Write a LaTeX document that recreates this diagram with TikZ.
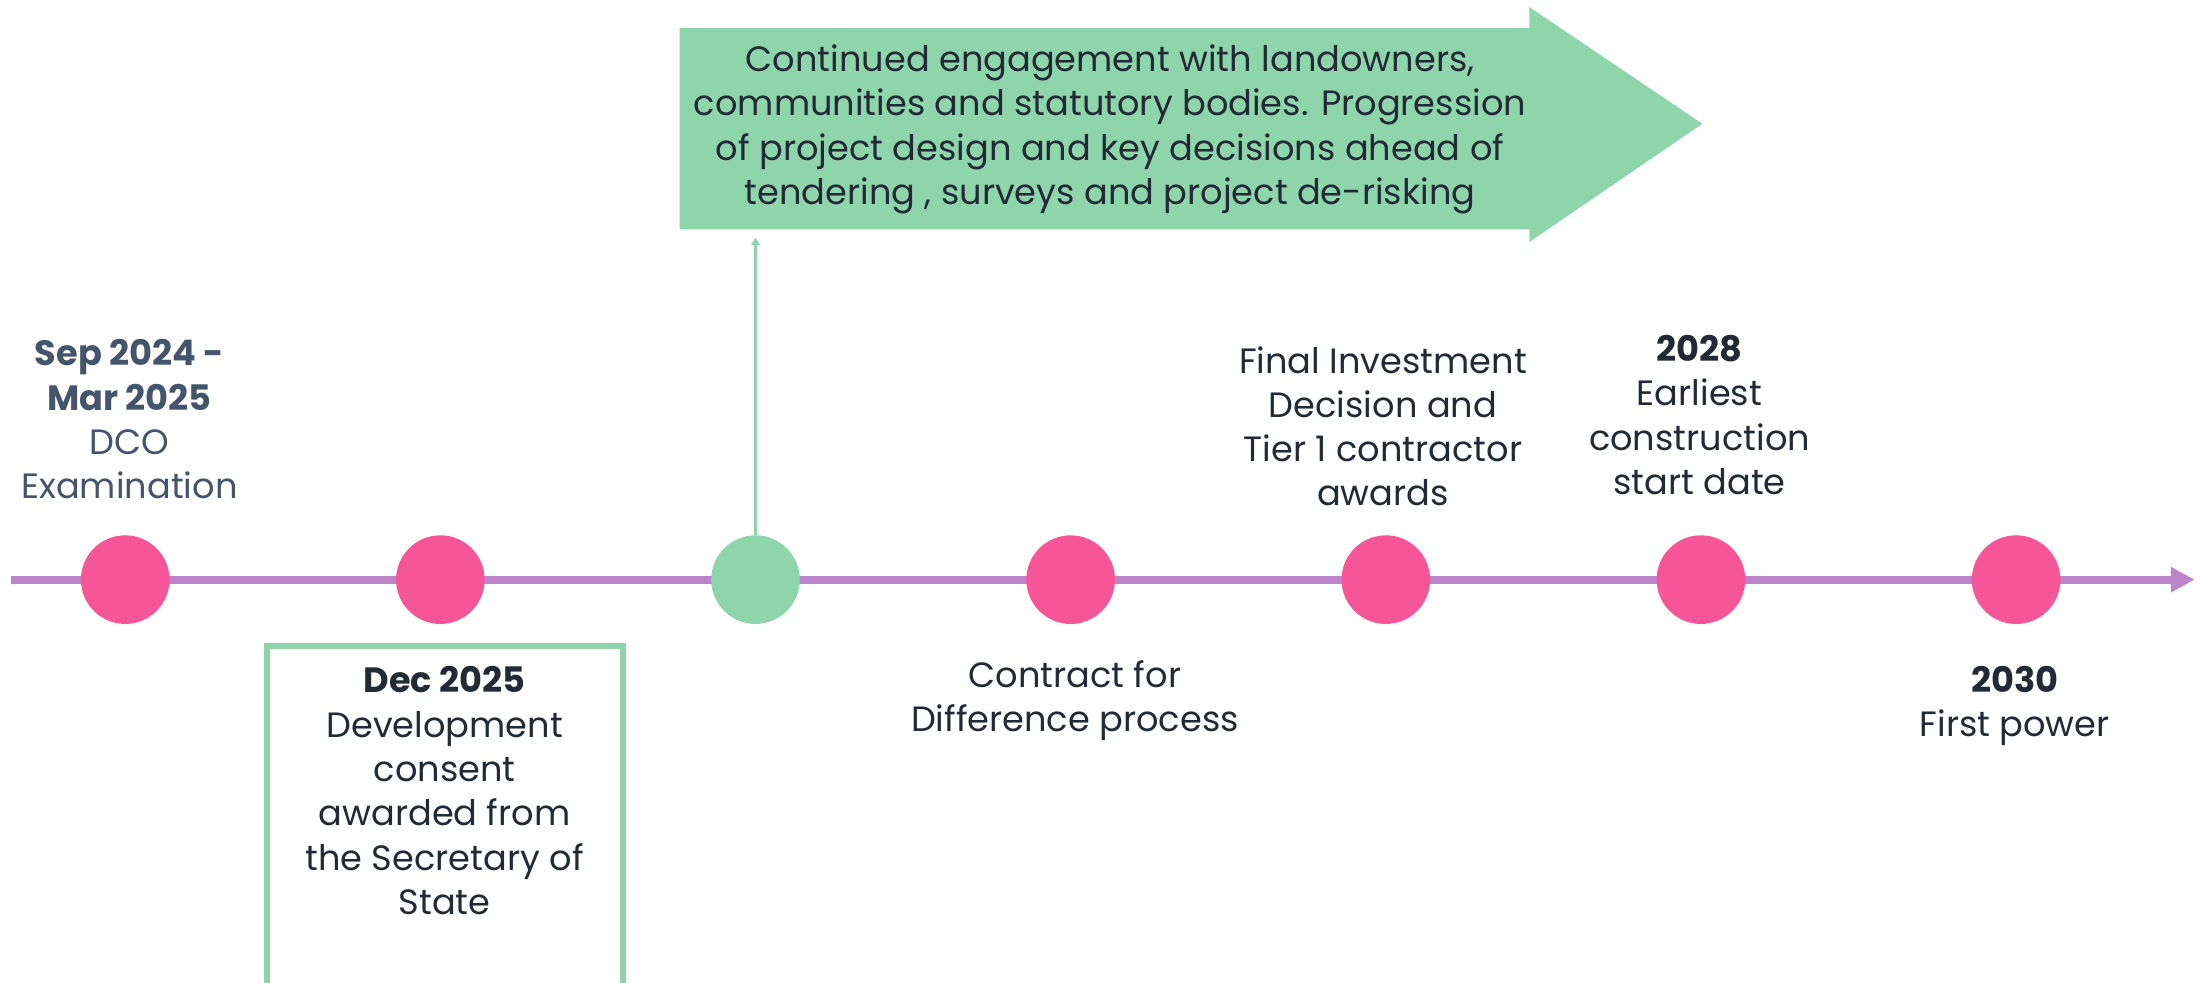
\documentclass[tikz,border=0pt]{standalone}
\usepackage{fontspec}
\setmainfont{Poppins}
\usetikzlibrary{arrows.meta}
\definecolor{pinkc}{HTML}{F65597}
\definecolor{purplec}{HTML}{BC85C9}
\definecolor{greenc}{HTML}{8FD5AB}
\definecolor{darkc}{HTML}{222A35}
\definecolor{slatec}{HTML}{44546A}
\tikzset{
  dot/.style={circle, fill=#1, minimum size=63pt, inner sep=0pt},
  lbl/.style={align=center, inner sep=0pt, text=darkc, font=\fontsize{25}{31.5}\selectfont},
}
\begin{document}
\begin{tikzpicture}[x=1pt,y=-1pt]
\useasboundingbox (0,0) rectangle (1568,698);
\clip (0,0) rectangle (1568,698);
% big arrow
\fill[greenc] (483,20) -- (1087,20) -- (1087,5) -- (1210,88) -- (1087,172) -- (1087,163) -- (483,163) -- cycle;
\node[lbl] (big) at (789,92) {Continued engagement with landowners,\\communities and statutory bodies. Progression\\of project design and key decisions ahead of\\tendering , surveys and project de-risking};
% timeline
\coordinate (tl0) at (8,412);
\coordinate (tl1) at (1560,412);
\draw[purplec, line width=5.8pt, -{Triangle[length=17pt,width=17pt]}] (tl0) -- (tl1);
\node[dot=pinkc] (d1) at (89,412) {};
\node[dot=pinkc] (d2) at (313,412) {};
\node[dot=greenc] (d3) at (537,412) {};
\node[dot=pinkc] (d4) at (761,412) {};
\node[dot=pinkc] (d5) at (985,412) {};
\node[dot=pinkc] (d6) at (1209,412) {};
\node[dot=pinkc] (d7) at (1433,412) {};
\coordinate (up) at (537,169);
\draw[greenc, line width=2.6pt, -{Triangle[length=5pt,width=6pt]}] (d3.north) -- (up);
% box
\draw[greenc, line width=4pt] (190,459) rectangle (443,720);
% labels
\node[lbl, text=slatec] (l1) at (92,298) {\textbf{Sep 2024 -}\\\textbf{Mar 2025}\\DCO\\Examination};
\node[lbl] (l2) at (316,562) {\textbf{Dec 2025}\\Development\\consent\\awarded from\\the Secretary of\\State};
\node[lbl] (l4) at (764,498) {Contract for\\Difference process};
\node[lbl] (l5) at (983,303) {Final Investment\\Decision and\\Tier 1 contractor\\awards};
\node[lbl] (l6) at (1208,295) {\textbf{2028}\\Earliest\\construction\\start date};
\node[lbl] (l7) at (1432,502) {\textbf{2030}\\First power};
\end{tikzpicture}
\end{document}
